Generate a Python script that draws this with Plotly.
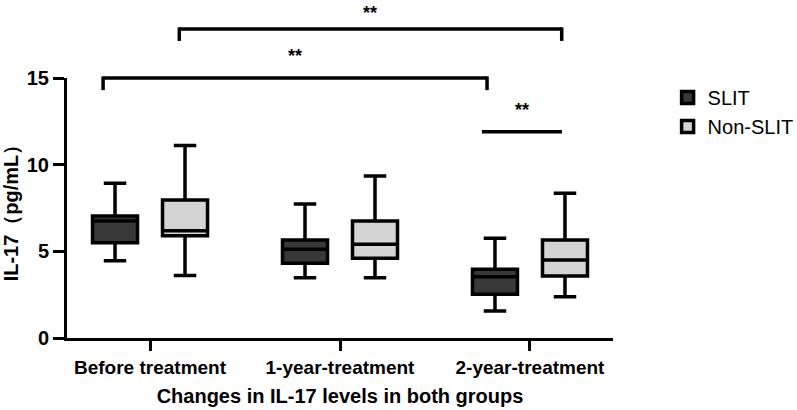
import plotly.graph_objects as go

categories = ["Before treatment", "1-year-treatment", "2-year-treatment"]

slit_lower = [4.45, 3.48, 1.56]
slit_q1 = [5.50, 4.31, 2.52]
slit_median = [6.75, 5.12, 3.54]
slit_q3 = [7.04, 5.65, 3.96]
slit_upper = [8.93, 7.73, 5.75]

non_lower = [3.60, 3.48, 2.38]
non_q1 = [5.90, 4.60, 3.58]
non_median = [6.19, 5.41, 4.50]
non_q3 = [7.96, 6.75, 5.65]
non_upper = [11.10, 9.35, 8.35]

# significance brackets: (x0 index, x1 index, top y, leg y, label y) in data units
brackets = [
    (-0.247, 1.774, 15.0, 14.3, 16.45),
    (0.154, 2.167, 17.83, 17.14, 18.9),
    (1.747, 2.168, 11.9, 11.9, 13.35),
]
sig_label = "**"
y_max = 15

FONT = "Liberation Sans, Arial"

fig = go.Figure()
common = dict(boxpoints=False, line=dict(color="black", width=3.5), whiskerwidth=0.5)
fig.add_trace(go.Box(name="SLIT", x=categories, q1=slit_q1, median=slit_median, q3=slit_q3,
                     lowerfence=slit_lower, upperfence=slit_upper, fillcolor="#383838", **common))
fig.add_trace(go.Box(name="Non-SLIT", x=categories, q1=non_q1, median=non_median, q3=non_q3,
                     lowerfence=non_lower, upperfence=non_upper, fillcolor="#d4d4d4", **common))

shapes = []
annotations = []
for x0, x1, yt, yl, ly in brackets:
    shapes.append(dict(type="line", xref="x", yref="paper", x0=x0, x1=x1,
                       y0=yt / y_max, y1=yt / y_max, line=dict(color="black", width=3.5)))
    if yl != yt:
        for xx in (x0, x1):
            shapes.append(dict(type="line", xref="x", yref="paper", x0=xx, x1=xx,
                               y0=yt / y_max + 0.006, y1=yl / y_max,
                               line=dict(color="black", width=3.5)))
    annotations.append(dict(x=(x0 + x1) / 2, y=ly / y_max, xref="x", yref="paper",
                            yanchor="top", text="<b>" + sig_label + "</b>", showarrow=False,
                            yshift=9, font=dict(size=18, color="black", family=FONT)))

fig.update_layout(
    width=797, height=410,
    margin=dict(l=67, r=184, t=78, b=72, autoexpand=False),
    paper_bgcolor="white", plot_bgcolor="white",
    boxmode="group", boxgap=0.263, boxgroupgap=0.357,
    font=dict(family=FONT, color="black"),
    shapes=shapes, annotations=annotations,
    legend=dict(x=1.1, y=1.0, xanchor="left", yanchor="top",
                font=dict(size=20, color="black"), tracegroupgap=2, itemwidth=30),
    xaxis=dict(range=[-0.437, 2.437], showline=True, linecolor="black", linewidth=3,
               ticks="outside", ticklen=10, tickwidth=3, tickcolor="black", automargin=False,
               tickfont=dict(size=19, color="black", family=FONT, weight="bold"),
               title=dict(text="<b>Changes in IL-17 levels in both groups</b>",
                          font=dict(size=20, color="black"), standoff=13),
               showgrid=False, zeroline=False),
    yaxis=dict(range=[0, y_max], tickvals=[0, 5, 10, 15], showline=True, linecolor="black",
               linewidth=3, ticks="outside", ticklen=11, tickwidth=3, tickcolor="black",
               automargin=False,
               tickfont=dict(size=20, color="black", family=FONT, weight="bold"),
               title=dict(text="<b>IL-17（pg/mL）</b>", font=dict(size=20, color="black"), standoff=6),
               showgrid=False, zeroline=False),
)

fig.write_html("out.html")
